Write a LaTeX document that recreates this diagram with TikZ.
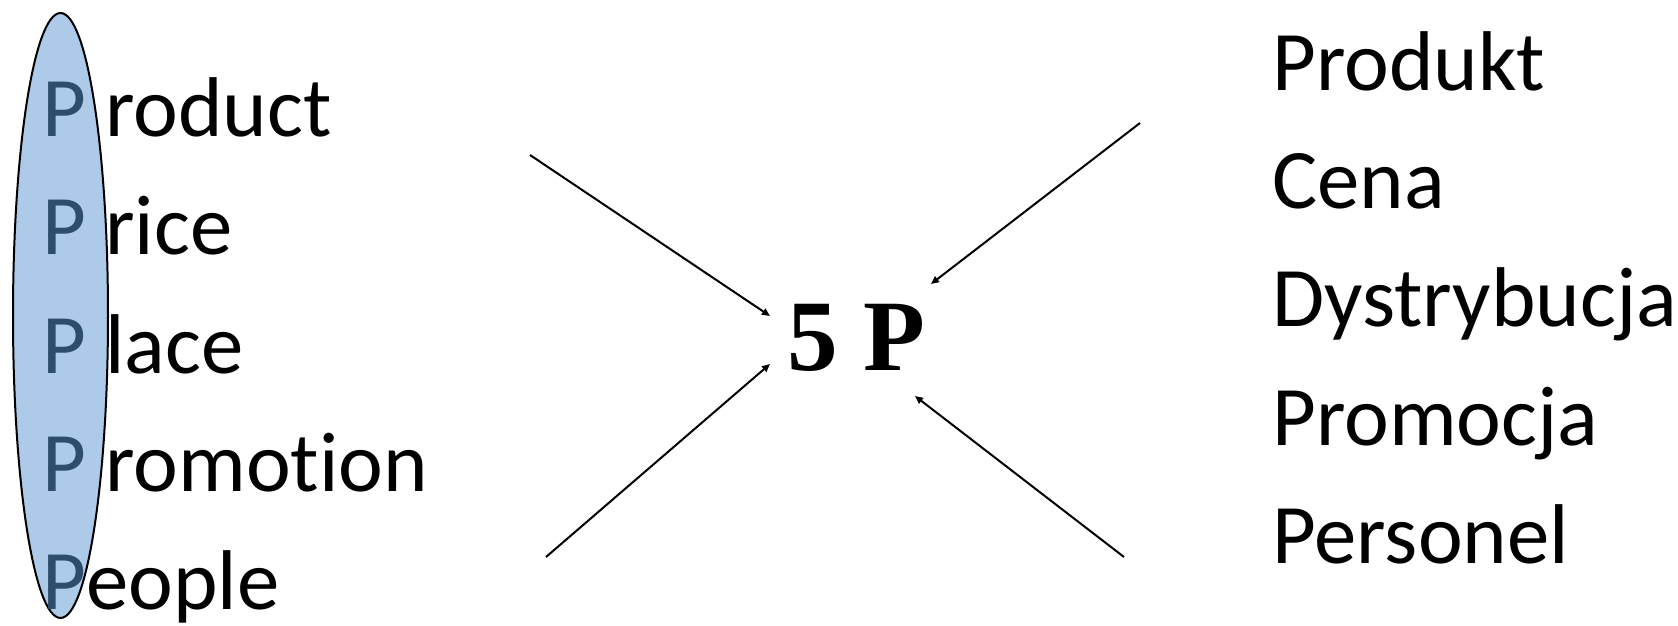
\documentclass[tikz,border=0pt]{standalone}
\usepackage{fontspec}
\setmainfont{Carlito}[Ligatures=NoCommon]
\newfontfamily\serifbf{Liberation Serif}
\usetikzlibrary{arrows.meta}
\definecolor{ovalfill}{HTML}{ADCBE9}
\definecolor{pblue}{HTML}{2E4D6B}

\begin{document}
\begin{tikzpicture}[x=0.5pt, y=-0.5pt, >={Triangle[length=4pt,width=3.5pt]}]
  \tikzset{word/.style={anchor=base west, inner sep=0pt, font=\fontsize{42.4}{50}\selectfont}}
  \useasboundingbox (0,0) rectangle (1678,626);
  % oval behind the first letters
  \draw[line width=1pt, fill=ovalfill] (60.5,315.5) ellipse (23.75pt and 151.25pt);
  \node[word] (product) at (42,137) {\textcolor{pblue}{P} roduct};
  \node[word] (price) at (42,255) {\textcolor{pblue}{P} rice};
  \node[word] (place) at (42,373) {\textcolor{pblue}{P} lace};
  \node[word] (promotion) at (42,491) {\textcolor{pblue}{P} romotion};
  \node[word] (people) at (42,609) {\textcolor{pblue}{P}eople};
  % centre
  \node[anchor=base, inner sep=0pt, font=\serifbf\bfseries\fontsize{50.6}{60}\selectfont] (fivep) at (856,370) {5 P};
  % polish names
  \node[word] (produkt) at (1272,91) {Produkt};
  \node[word] (cena) at (1272,209) {Cena};
  \node[word] (dystr) at (1272,327) {Dystrybucja};
  \node[word] (promocja) at (1272,445) {Promocja};
  \node[word] (personel) at (1272,563) {Personel};
  % arrows
  \coordinate (tlS) at (530,155);  \coordinate (tlE) at (770,316);
  \coordinate (trS) at (1140,123); \coordinate (trE) at (931,284);
  \coordinate (blS) at (546,557);  \coordinate (blE) at (770,364);
  \coordinate (brS) at (1124,557); \coordinate (brE) at (915,396);
  \draw[->, line width=1pt] (tlS) -- (tlE);
  \draw[->, line width=1pt] (trS) -- (trE);
  \draw[->, line width=1pt] (blS) -- (blE);
  \draw[->, line width=1pt] (brS) -- (brE);
\end{tikzpicture}
\end{document}
